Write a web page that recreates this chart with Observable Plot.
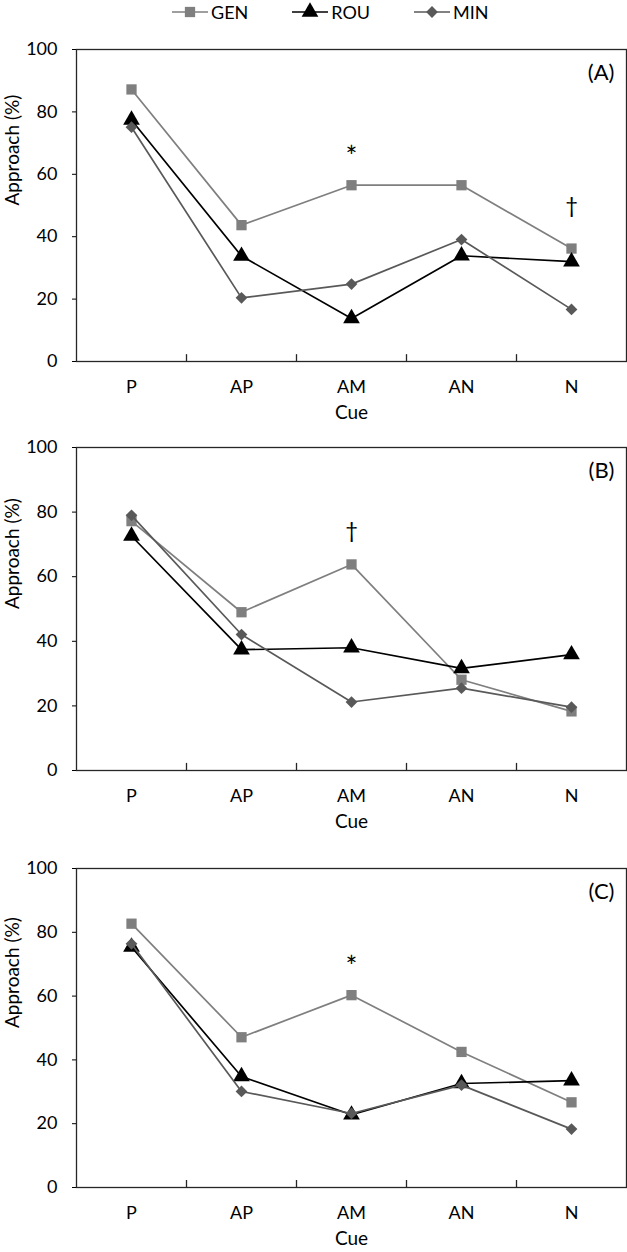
<!DOCTYPE html>
<html><head><meta charset="utf-8">
<script src="https://cdn.jsdelivr.net/npm/d3@7"></script>
<script src="https://cdn.jsdelivr.net/npm/@observablehq/plot@0.6"></script>
<style>
body{margin:0;background:#fff;font-family:Lato,sans-serif;}
#wrap{position:relative;width:627px;height:1252px;overflow:hidden;background:#fff;}
#legend{position:absolute;top:1px;left:0;width:627px;height:22px;display:flex;align-items:center;padding-left:172px;box-sizing:border-box;font-size:18px;line-height:20px;color:#000;}
.item{display:flex;align-items:center;margin-right:44px;}
.item svg{margin-right:3px;}
.panel{position:absolute;left:0;}
</style></head><body><div id="wrap"><div id="legend"></div></div>
<script>
const cues = ["P", "AP", "AM", "AN", "N"];
const seriesNames = ["GEN", "ROU", "MIN"];
const seriesColors = ["#7f7f7f", "#000000", "#595959"];
const seriesSymbols = ["square", "triangle", "diamond2"];
const panelLabels = ["(A)", "(B)", "(C)"];
const yTicks = [0, 20, 40, 60, 80, 100];
const yLabel = "Approach (%)";
const xLabel = "Cue";

// Panel A
const genA = [87.2, 43.7, 56.5, 56.5, 36.2];
const rouA = [77.4, 33.8, 13.8, 33.9, 32.0];
const minA = [75.1, 20.4, 24.8, 39.1, 16.7];
const annotA = [{cue: "AM", y: 67.6, s: "*"}, {cue: "N", y: 50.0, s: "†"}];
// Panel B
const genB = [77.2, 49.0, 63.8, 28.1, 18.3];
const rouB = [72.6, 37.4, 38.0, 31.6, 35.9];
const minB = [79.0, 42.1, 21.2, 25.5, 19.6];
const annotB = [{cue: "AM", y: 74.3, s: "†"}];
// Panel C
const genC = [82.7, 47.1, 60.3, 42.5, 26.7];
const rouC = [75.4, 34.8, 22.8, 32.6, 33.5];
const minC = [76.4, 30.1, 23.2, 32.1, 18.3];
const annotC = [{cue: "AM", y: 71.0, s: "*"}];

const symbolR = {square: 5.8, triangle: 6.2, diamond2: 5.3};

// Legend
const leg = d3.select("#legend");
seriesNames.forEach((name, k) => {
  const it = leg.append("div").attr("class", "item");
  const svg = it.append("svg").attr("width", 36).attr("height", 20);
  svg.append("line").attr("x1", 0).attr("x2", 36).attr("y1", 10).attr("y2", 10)
    .attr("stroke", seriesColors[k]).attr("stroke-width", 1.7);
  const d3sym = {square: d3.symbolSquare, triangle: d3.symbolTriangle, diamond2: d3.symbolDiamond2}[seriesSymbols[k]];
  const r = symbolR[seriesSymbols[k]];
  svg.append("path").attr("d", d3.symbol(d3sym, Math.PI * r * r)()).attr("transform", "translate(18,10)")
    .attr("fill", seriesColors[k]);
  it.append("span").text(name);
});

function makePanel(values, label, annots, layout) {
  const rows = [];
  values.forEach((vals, si) => vals.forEach((v, i) => rows.push({series: seriesNames[si], si, i, value: v})));
  const marks = [
    Plot.frame({stroke: "#262626", strokeWidth: 1.3}),
    Plot.axisY({ticks: yTicks, tickSize: 4, tickPadding: 15, fontSize: 18, label: null}),
    Plot.axisX({ticks: d3.range(cues.length), tickFormat: i => cues[i], tickSize: 0, tickPadding: 19, fontSize: 18, label: null}),
    Plot.ruleX(d3.range(1, cues.length).map(i => i - 0.5), {y1: 0, y2: 2.2, stroke: "#262626", strokeWidth: 1.3}),
    Plot.text([yLabel], {frameAnchor: "left", rotate: -90, dx: -64, fontSize: 19, fill: "#000"}),
    Plot.text([xLabel], {frameAnchor: "bottom", dy: 57, fontSize: 19, fill: "#000"})
  ];
  seriesNames.forEach((name, si) => {
    const d = rows.filter(r => r.si === si);
    marks.push(Plot.line(d, {x: "i", y: "value", stroke: seriesColors[si], strokeWidth: 1.7}));
    marks.push(Plot.dot(d, {x: "i", y: "value", symbol: seriesSymbols[si], r: symbolR[seriesSymbols[si]], fill: seriesColors[si], stroke: "none"}));
  });
  marks.push(Plot.text([label], {frameAnchor: "top-right", dx: -12, dy: 15, fontSize: 22, fill: "#000"}));
  marks.push(Plot.text(annots.filter(d => d.s === "*"), {x: d => cues.indexOf(d.cue), y: "y", text: "s", fontSize: 28, dy: 7, fill: "#000"}));
  marks.push(Plot.text(annots.filter(d => d.s !== "*"), {x: d => cues.indexOf(d.cue), y: "y", text: "s", fontSize: 22, fill: "#000"}));
  const chart = Plot.plot({
    width: 627, height: layout.height,
    marginLeft: 76, marginRight: 1, marginTop: layout.mt, marginBottom: layout.mb,
    style: {fontFamily: "Lato, sans-serif", fontSize: "18px", color: "#000", background: "#fff", overflow: "visible"},
    x: {domain: [-0.5, cues.length - 0.5]},
    y: {domain: [0, 100]},
    marks
  });
  chart.classList.add("panel");
  chart.style.top = layout.top + "px";
  chart.style.position = "absolute";
  document.getElementById("wrap").appendChild(chart);
}

makePanel([genA, rouA, minA], panelLabels[0], annotA, {top: 30, mt: 19, mb: 60, height: 391});
makePanel([genB, rouB, minB], panelLabels[1], annotB, {top: 421, mt: 26, mb: 70, height: 419});
makePanel([genC, rouC, minC], panelLabels[2], annotC, {top: 840, mt: 28, mb: 65, height: 412});
</script></body></html>
